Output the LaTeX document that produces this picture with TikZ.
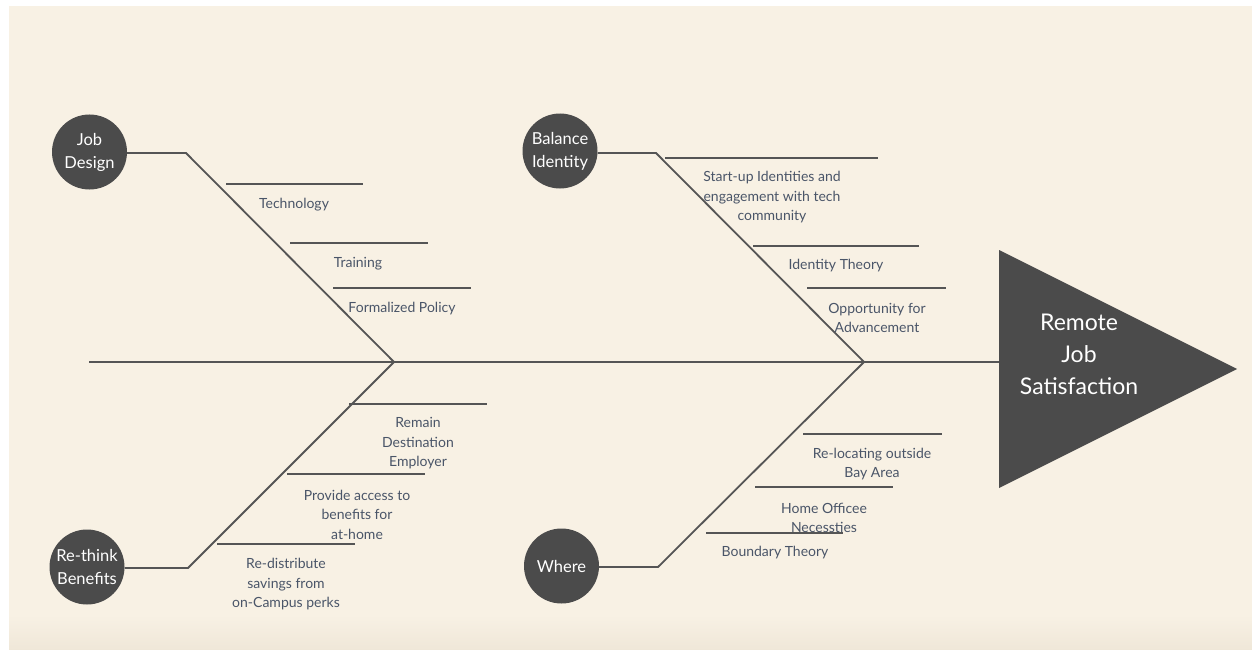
\documentclass[tikz,border=0pt]{standalone}
\usepackage{fontspec}
\setmainfont{Lato}
\definecolor{bg}{HTML}{F8F1E4}
\definecolor{bgdark}{HTML}{EFE7D8}
\definecolor{dark}{HTML}{4B4B4B}
\definecolor{lbl}{HTML}{4A5568}
\definecolor{ln}{HTML}{555555}
\begin{document}
\begin{tikzpicture}[x=1pt,y=-1pt,
  cause/.style={circle, fill=dark, minimum size=75pt, inner sep=0pt, text=white,
    font=\fontsize{16.5}{23}\selectfont, align=center},
  sub/.style={text=lbl, font=\fontsize{14}{19.5}\selectfont, align=center, inner sep=0pt, yshift=-1.5pt},
  bone/.style={draw=ln, line width=1.8pt},
  rib/.style={draw=ln, line width=1.8pt},
  effect/.style={text=white, font=\fontsize{23}{32}\selectfont, align=center, inner sep=0pt}]
\useasboundingbox (0,0) rectangle (1252,650);
\fill[white] (0,0) rectangle (1252,650);
\fill[bg] (9,6) rectangle (1252,650);
\shade[top color=bg, bottom color=bgdark] (9,615) rectangle (1252,650);

% head (effect)
\fill[dark] (999,250) -- (1237,369) -- (999,488) -- cycle;
\node[effect] (eff) at (1079,354) {Remote\\Job\\Satisfaction};

% spine
\coordinate (tail) at (89,362);
\coordinate (head) at (999,362);
\coordinate (j1) at (394,362);
\coordinate (j2) at (864,362);
\draw[bone] (tail) -- (head);

% cause circles
\node[cause] (jd) at (89.5,152) {Job\\Design};
\node[cause] (bi) at (560,151) {Balance\\Identity};
\node[cause] (rb) at (87,567) {Re-think\\Benefits};
\node[cause] (wh) at (561.5,566) {Where};

% knees
\coordinate (jdk) at (186,153);
\coordinate (bik) at (656,153);
\coordinate (rbk) at (188,568);
\coordinate (whk) at (658,567);

\draw[bone] (jd.east |- jdk) -- (jdk) -- (j1);
\draw[bone] (bi.east |- bik) -- (bik) -- (j2);
\draw[bone] (rb.east |- rbk) -- (rbk) -- (j1);
\draw[bone] (wh.east |- whk) -- (whk) -- (j2);

% Job Design ribs
\coordinate (a1) at (226,184); \coordinate (a1e) at (363,184);
\coordinate (a2) at (290,243); \coordinate (a2e) at (428,243);
\coordinate (a3) at (333,288); \coordinate (a3e) at (471,288);
\draw[rib] (a1) -- (a1e);
\draw[rib] (a2) -- (a2e);
\draw[rib] (a3) -- (a3e);
\node[sub] (ta1) at (294,203) {Technology};
\node[sub] (ta2) at (358,262) {Training};
\node[sub] (ta3) at (402,307) {Formalized Policy};

% Balance Identity ribs
\coordinate (b1) at (665,158); \coordinate (b1e) at (878,158);
\coordinate (b2) at (753,246); \coordinate (b2e) at (919,246);
\coordinate (b3) at (807,288); \coordinate (b3e) at (946,288);
\draw[rib] (b1) -- (b1e);
\draw[rib] (b2) -- (b2e);
\draw[rib] (b3) -- (b3e);
\node[sub] (tb1) at (772,196) {Start-up Identities and\\engagement with tech\\community};
\node[sub] (tb2) at (836,264) {Identity Theory};
\node[sub] (tb3) at (877,316.5) {Opportunity for\\Advancement};

% Re-think Benefits ribs
\coordinate (c1) at (349,404); \coordinate (c1e) at (487,404);
\coordinate (c2) at (287,474); \coordinate (c2e) at (425,474);
\coordinate (c3) at (217,544); \coordinate (c3e) at (355,544);
\draw[rib] (c1) -- (c1e);
\draw[rib] (c2) -- (c2e);
\draw[rib] (c3) -- (c3e);
\node[sub] (tc1) at (418,442) {Remain\\Destination\\Employer};
\node[sub] (tc2) at (357,513) {Provide access to\\benefits for\\at-home};
\node[sub] (tc3) at (286,583) {Re-distribute\\savings from\\on-Campus perks};

% Where ribs
\coordinate (d1) at (803,434); \coordinate (d1e) at (942,434);
\coordinate (d2) at (755,487); \coordinate (d2e) at (893,487);
\coordinate (d3) at (706,533); \coordinate (d3e) at (843,533);
\draw[rib] (d1) -- (d1e);
\draw[rib] (d2) -- (d2e);
\draw[rib] (d3) -- (d3e);
\node[sub] (td1) at (872,462.5) {Re-locating outside\\Bay Area};
\node[sub] (td2) at (824,516.5) {Home Officee\\Necessties};
\node[sub] (td3) at (775,551) {Boundary Theory};
\end{tikzpicture}
\end{document}
